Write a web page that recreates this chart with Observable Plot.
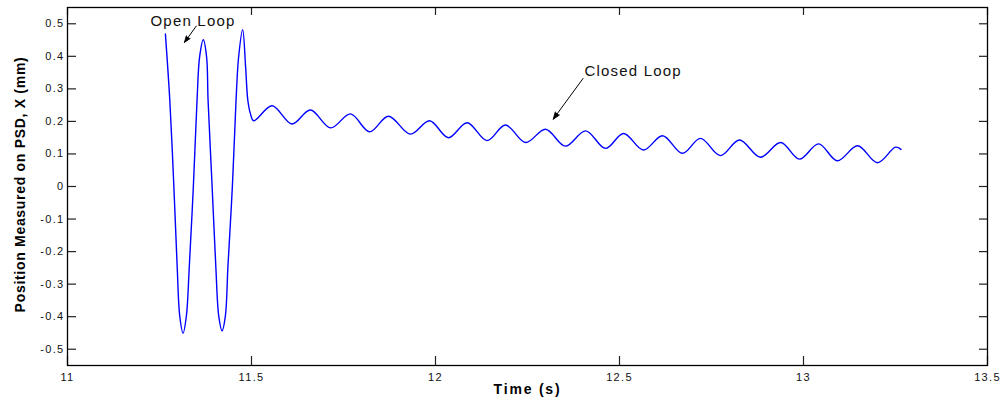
<!DOCTYPE html>
<html>
<head>
<meta charset="utf-8">
<script src="https://cdn.jsdelivr.net/npm/d3@7"></script>
<script src="https://cdn.jsdelivr.net/npm/@observablehq/plot@0.6"></script>
<style>
  body { margin: 0; background: #fff; }
  #chart svg { font-family: "Liberation Sans", Arial, sans-serif; background: #fff; }
</style>
</head>
<body>
<div id="chart"></div>
<script>
// Time (s) and measured position (mm)
const time = [
  11.266, 11.278, 11.289, 11.298, 11.305, 11.314,
  11.323, 11.331, 11.342, 11.352, 11.359, 11.369,
  11.378, 11.382, 11.393, 11.403, 11.411, 11.420,
  11.429, 11.436, 11.448, 11.458, 11.465, 11.476,
  11.484, 11.490, 11.497, 11.506,
  11.556, 11.610, 11.660, 11.715, 11.769, 11.821, 11.872, 11.932,
  11.984, 12.035, 12.086, 12.140, 12.190, 12.245, 12.299, 12.353,
  12.408, 12.462, 12.511, 12.565, 12.617, 12.671, 12.720, 12.774,
  12.826, 12.883, 12.938, 12.989, 13.041, 13.092, 13.147, 13.201,
  13.250, 13.265
];
const position = [
  0.469, 0.265, 0.000, -0.245, -0.398, -0.451,
  -0.398, -0.245, 0.000, 0.265, 0.398, 0.451,
  0.398, 0.265, 0.000, -0.245, -0.398, -0.443,
  -0.398, -0.245, 0.000, 0.265, 0.398, 0.482,
  0.367, 0.265, 0.224, 0.202,
  0.248, 0.192, 0.235, 0.180, 0.223, 0.168, 0.216, 0.161,
  0.202, 0.150, 0.196, 0.141, 0.189, 0.135, 0.176, 0.124,
  0.171, 0.117, 0.163, 0.112, 0.156, 0.102, 0.148, 0.095,
  0.143, 0.090, 0.135, 0.084, 0.131, 0.079, 0.125, 0.073,
  0.121, 0.114
];

const xTicks = [11, 11.5, 12, 12.5, 13, 13.5];
const yTicks = [-0.5, -0.4, -0.3, -0.2, -0.1, 0, 0.1, 0.2, 0.3, 0.4, 0.5];
const xDomain = [11, 13.5];
const yDomain = [-0.55, 0.55];

const xLabel = "Time (s)";
const yLabel = "Position Measured on PSD, X (mm)";

// Annotations (data coordinates)
const noteText = ["Open Loop", "Closed Loop"];
const noteX = [11.341, 12.537];
const noteY = [0.508, 0.355];
const arrowX1 = [11.350, 12.401];
const arrowY1 = [0.493, 0.332];
const arrowX2 = [11.318, 12.320];
const arrowY2 = [0.443, 0.207];

// Layout
const W = 1008, H = 404, ML = 67, MR = 21, MT = 7, MB = 39;
const frameW = W - ML - MR, frameH = H - MT - MB, tickLen = 9;

const fmt = d => String(+(+d).toFixed(2));

const chart = Plot.plot({
  width: W,
  height: H,
  marginLeft: ML,
  marginRight: MR,
  marginTop: MT,
  marginBottom: MB,
  style: { fontSize: "11px", fontFamily: "'Liberation Sans', Arial, sans-serif", color: "#000", background: "#fff" },
  x: { domain: xDomain },
  y: { domain: yDomain },
  marks: [
    // inward ticks on all four sides
    Plot.tickX(xTicks, { x: d => d, insetTop: frameH - tickLen, stroke: "#222", strokeWidth: 1.2 }),
    Plot.tickX(xTicks, { x: d => d, insetBottom: frameH - tickLen + 1, stroke: "#222", strokeWidth: 1.2 }),
    Plot.tickY(yTicks, { y: d => d, insetRight: frameW - tickLen, stroke: "#222", strokeWidth: 1.2 }),
    Plot.tickY(yTicks, { y: d => d, insetLeft: frameW - tickLen + 1, stroke: "#222", strokeWidth: 1.2 }),
    Plot.frame({ stroke: "#000", strokeWidth: 1.3 }),
    Plot.axisX(xTicks, { anchor: "bottom", tickSize: 0, tickPadding: 8, tickFormat: fmt, label: null, fill: "#111" }),
    Plot.axisY(yTicks, { anchor: "left", tickSize: 0, tickPadding: 3, tickFormat: fmt, label: null, fill: "#111" }),
    Plot.line(time, { x: time, y: position, curve: "catmull-rom", stroke: "#0000ff", strokeWidth: 1.4 }),
    Plot.arrow(arrowX1, { x1: arrowX1, y1: arrowY1, x2: arrowX2, y2: arrowY2, stroke: "#000", strokeWidth: 1, headLength: 11, headAngle: 40 }),
    Plot.text(noteText, { x: noteX, y: noteY, text: noteText, fontSize: 15, fill: "#111" }),
    Plot.text([xLabel], { frameAnchor: "bottom", dy: 28, textAnchor: "middle", fontWeight: "bold", fontSize: 14, fill: "#000" }),
    Plot.text([yLabel], { frameAnchor: "left", dx: -47, dy: -2, textAnchor: "middle", rotate: -90, fontWeight: "bold", fontSize: 14, fill: "#000" })
  ]
});
document.getElementById("chart").appendChild(chart);

// filled arrowheads, as in the original figure
for (const g of chart.querySelectorAll("g")) {
  if (g.getAttribute("aria-label") === "arrow") {
    g.setAttribute("fill", "#000");
    for (const p of g.querySelectorAll("path")) p.style.fill = "#000";
  }
}

// letter spacing to mimic the wide text of the original figure
const tickStrings = new Set([...xTicks, ...yTicks].map(fmt));
for (const t of chart.querySelectorAll("text")) {
  const s = t.textContent;
  if (noteText.includes(s)) t.style.letterSpacing = "1.2px";
  else if (s === xLabel) t.style.letterSpacing = "1.8px";
  else if (s === yLabel) t.style.letterSpacing = "0.7px";
  else if (tickStrings.has(s)) t.style.letterSpacing = "1.3px";
}
</script>
</body>
</html>
